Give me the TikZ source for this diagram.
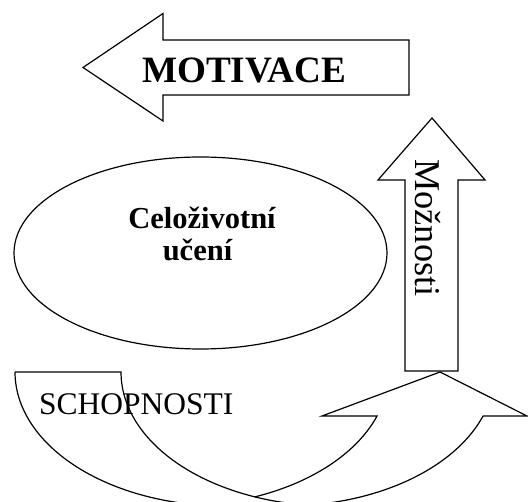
\documentclass[tikz,border=0pt]{standalone}
\usepackage{fontspec}
\setmainfont{Liberation Serif}
\begin{document}
\begin{tikzpicture}[x=1pt,y=-1pt,
  outline/.style={draw=black,line width=1.2pt,line join=miter},
  label/.style={anchor=base,inner sep=0pt,text=black}]
\useasboundingbox (0,0) rectangle (528,502);
\fill[white] (0,0) rectangle (528,502);
\clip (0,0) rectangle (528,502);

% block arrow pointing left
\draw[outline] (83,67.5) -- (163,13.5) -- (163,40) -- (409,40) -- (409,95)
  -- (163,95) -- (163,121) -- cycle;
\node[label,font=\fontsize{37.2}{40}\selectfont\bfseries] (motivace) at (244,82.3) {MOTIVACE};

% ellipse with its caption
\draw[outline] (200.5,253) ellipse [x radius=186.5pt, y radius=96pt];
\node[label,font=\fontsize{30.5}{33}\selectfont\bfseries] (celo) at (202,229) {Celoživotní};
\node[label,font=\fontsize{30.5}{33}\selectfont\bfseries] (uceni) at (197.5,261) {učení};

% block arrow pointing up
\draw[outline] (432,118) -- (485,180) -- (458,180) -- (458,371) -- (405,371)
  -- (405,180) -- (378,180) -- cycle;
\node[label,rotate=-90,font=\fontsize{36.3}{40}\selectfont] (moznosti) at (415,228) {Možnosti};

% curved up arrow (quarter ellipse bands, rx 210, ry 134)
\draw[outline] (15,372) -- (121,372)
  -- plot[domain=180:111.25,samples=60,variable=\t] ({331+210*cos(\t)},{372+134*sin(\t)})
  -- plot[domain=68.7:19.17,samples=60,variable=\t] ({178.7+210*cos(\t)},{372+134*sin(\t)})
  -- (322,416) -- (440,372) -- (527,416) -- (483,416)
  -- plot[domain=19.17:98.17,samples=80,variable=\t] ({284.7+210*cos(\t)},{372+134*sin(\t)})
  -- plot[domain=81.8:180,samples=90,variable=\t] ({225+210*cos(\t)},{372+134*sin(\t)})
  -- cycle;
\draw[outline] plot[domain=111.25:90,samples=30,variable=\t] ({331+210*cos(\t)},{372+134*sin(\t)});
\node[label,font=\fontsize{31.5}{34}\selectfont] (schopnosti) at (136.3,414.3) {SCHOPNOSTI};
\end{tikzpicture}
\end{document}
